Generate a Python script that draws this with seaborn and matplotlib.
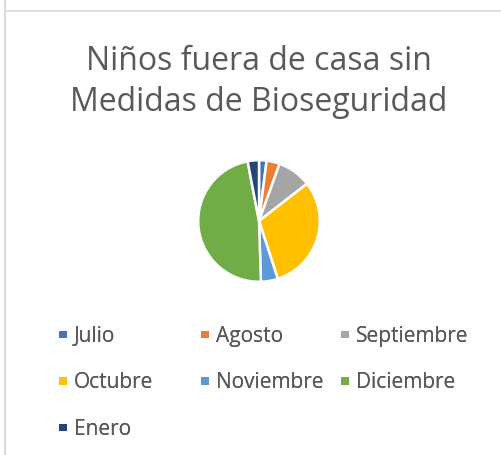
import matplotlib
matplotlib.use("Agg")
import matplotlib.pyplot as plt
import seaborn as sns
from matplotlib.lines import Line2D
from matplotlib.patches import Patch

meses = ["Julio", "Agosto", "Septiembre", "Octubre", "Noviembre", "Diciembre", "Enero"]
valores = [2, 3.5, 9, 30.5, 4.5, 47.5, 3]
colores = ["#4472C4", "#ED7D31", "#A5A5A5", "#FFC000", "#5B9BD5", "#70AD47", "#264478"]
titulo = "Niños fuera de casa sin\nMedidas de Bioseguridad"

sns.set_theme(style="white")
plt.rcParams["font.family"] = ["Open Sans", "DejaVu Sans"]
gris = "#595959"

W, H = 501, 455
fig = plt.figure(figsize=(W / 100, H / 100), dpi=100)

# bordes del area del grafico
fig.add_artist(Line2D([4.5 / W, 4.5 / W], [0, 1], color="#d9d9d9", lw=1.5))
fig.add_artist(Line2D([6 / W, 1], [1 - 11 / H, 1 - 11 / H], color="#d9d9d9", lw=1.2))

paleta = sns.color_palette(colores)
cx, cy, r = 259, 221, 62
ax = fig.add_axes([(cx - r) / W, 1 - (cy + r) / H, 2 * r / W, 2 * r / H])
wedges, _ = ax.pie(valores, colors=paleta, startangle=90, counterclock=False,
                   wedgeprops=dict(edgecolor="white", linewidth=1.8))
ax.set_xlim(-1.02, 1.02)
ax.set_ylim(-1.02, 1.02)
ax.set_aspect("equal")
ax.axis("off")

fig.text(cx / W, 1 - 82 / H, titulo, ha="center", va="center", fontsize=23,
         color=gris, linespacing=1.3)

# leyenda en tres columnas
columnas = [[0, 3, 6], [1, 4], [2, 5]]
xs = [59, 201, 341]
for idx, x0 in zip(columnas, xs):
    handles = [Patch(facecolor=paleta[i], edgecolor="none") for i in idx]
    leg = fig.legend(handles, [meses[i] for i in idx],
                     loc="upper left", bbox_to_anchor=(x0 / W, 1 - 326 / H),
                     frameon=False, fontsize=15, handlelength=0.36,
                     handleheight=0.18, handletextpad=0.36, labelspacing=1.22,
                     borderaxespad=0, borderpad=0, labelcolor=gris)
    fig.add_artist(leg)

fig.savefig("out.png", dpi=100)
